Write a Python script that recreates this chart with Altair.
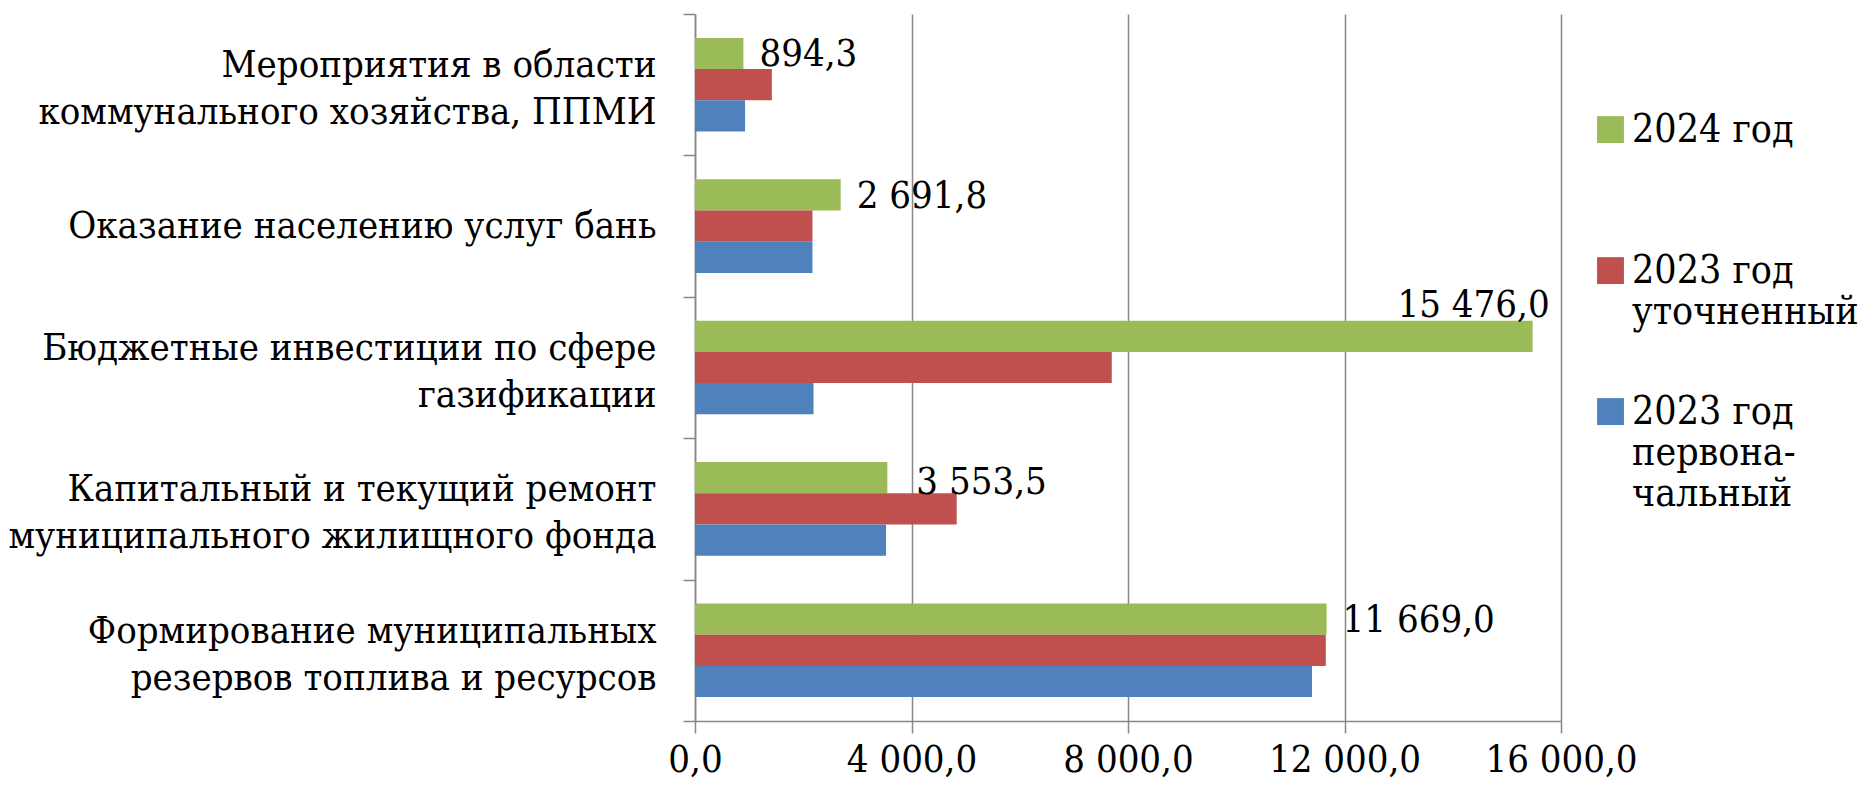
import json
import altair as alt
import pandas as pd

categories = [
    "Мероприятия в области\nкоммунального хозяйства, ППМИ",
    "Оказание населению услуг бань",
    "Бюджетные инвестиции по сфере\nгазификации",
    "Капитальный и текущий ремонт\nмуниципального жилищного фонда",
    "Формирование муниципальных\nрезервов топлива и ресурсов",
]
series = ["2024 год", "2023 год уточненный", "2023 год первоначальный"]
values_2024 = [894.3, 2691.8, 15476.0, 3553.5, 11669.0]
values_2023_refined = [1420.0, 2170.0, 7700.0, 4835.0, 11655.0]
values_2023_initial = [925.0, 2170.0, 2190.0, 3530.0, 11400.0]
colors = ["#9BBB59", "#C0504D", "#4F81BD"]
x_ticks = [0, 4000, 8000, 12000, 16000]
legend_lines = {
    "2024 год": ["2024 год"],
    "2023 год уточненный": ["2023 год", "уточненный"],
    "2023 год первоначальный": ["2023 год", "первона-", "чальный"],
}

rows = []
for s, vals in zip(series, [values_2024, values_2023_refined, values_2023_initial]):
    for c, v in zip(categories, vals):
        rows.append({"category": c, "series": s, "value": v})
df = pd.DataFrame(rows)

FONT = "DejaVu Serif Condensed"
FS = 38
GRAY = "#878787"
NBSP = "\u00a0"

expr = "''"
for name, lines in reversed(list(legend_lines.items())):
    padded = lines + [NBSP] * (3 - len(lines))
    expr = f"datum.label == {json.dumps(name, ensure_ascii=False)} ? {json.dumps(padded, ensure_ascii=False)} : ({expr})"

x_enc = alt.X(
    "value:Q",
    scale=alt.Scale(domain=[0, 16000], nice=False),
    axis=alt.Axis(
        values=x_ticks, format=",.1f", title=None, grid=True,
        gridColor=GRAY, gridWidth=1.5, domainColor=GRAY, domainWidth=1.5,
        tickColor=GRAY, tickWidth=1.5, tickSize=12,
        labelFontSize=FS, labelFont=FONT, labelColor="black", labelLimit=400,
        labelPadding=8, labelFlush=False, labelOverlap=False,
    ),
)
y_axis = alt.Axis(
    title=None, grid=False, tickBand="extent",
    domainColor=GRAY, domainWidth=1.5, tickColor=GRAY, tickWidth=1.5, tickSize=12,
    labelFontSize=FS, labelFont=FONT, labelColor="black", labelLineHeight=47,
    labelPadding=27, labelLimit=700, labelAlign="right",
    labelBaseline={
        "condition": {
            "test": "datum != null && isString(datum.value) && indexof(datum.value, '\\n') >= 0",
            "value": "bottom",
        },
        "value": "middle",
    },
    labelExpr="split(datum.label, '\\n')",
)
y_scale = alt.Scale(domain=categories, paddingInner=0, paddingOuter=0)
y_main = alt.Y("category:N", sort=categories, scale=y_scale, axis=y_axis)
y_plain = alt.Y("category:N", sort=categories, scale=y_scale)
yoff_enc = alt.YOffset(
    "series:N", sort=series,
    scale=alt.Scale(domain=series, paddingInner=0, paddingOuter=0.765),
)

bars = alt.Chart(df).mark_bar().encode(
    x=x_enc, y=y_main, yOffset=yoff_enc,
    color=alt.Color(
        "series:N", sort=series,
        scale=alt.Scale(domain=series, range=colors),
        legend=alt.Legend(
            title=None, orient="none", legendX=896, legendY=77, direction="vertical",
            symbolType="M -1 0.42 H 1 V 2.42 H -1 Z", symbolSize=723,
            symbolStrokeWidth=0, symbolOpacity=1,
            labelFontSize=39, labelFont=FONT, labelColor="black", labelOffset=2,
            labelBaseline="top", labelLimit=400, rowPadding=0, padding=0,
            labelExpr=expr,
        ),
    ),
)

base_text = alt.Chart(df).transform_filter(alt.datum.series == series[0])
enc = dict(x=alt.X("value:Q"), y=y_plain, yOffset=yoff_enc, text=alt.Text("value:Q", format=",.1f"))

t_normal = base_text.transform_filter(
    alt.FieldOneOfPredicate(field="category", oneOf=[categories[0], categories[1], categories[4]])
).mark_text(align="left", baseline="middle", dx=16, dy=2, fontSize=FS, font=FONT, color="black").encode(**enc)
t_repair = base_text.transform_filter(
    alt.FieldEqualPredicate(field="category", equal=categories[3])
).mark_text(align="left", baseline="middle", dx=29, dy=5, fontSize=FS, font=FONT, color="black").encode(**enc)
t_gas = base_text.transform_filter(
    alt.FieldEqualPredicate(field="category", equal=categories[2])
).mark_text(align="right", baseline="alphabetic", dx=17, dy=-19, fontSize=FS, font=FONT, color="black").encode(**enc)

chart = alt.layer(bars, t_normal, t_repair, t_gas).properties(
    width=866, height=707,
    autosize=alt.AutoSizeParams(type="none"),
    padding={"left": 687, "top": 6, "right": 299, "bottom": 61},
).configure(
    font=FONT,
    locale={"number": {"decimal": ",", "thousands": " ", "grouping": [3], "currency": ["", ""]}},
).configure_view(stroke=None)

chart.save("out.html", embed_options={"renderer": "svg", "actions": False})
